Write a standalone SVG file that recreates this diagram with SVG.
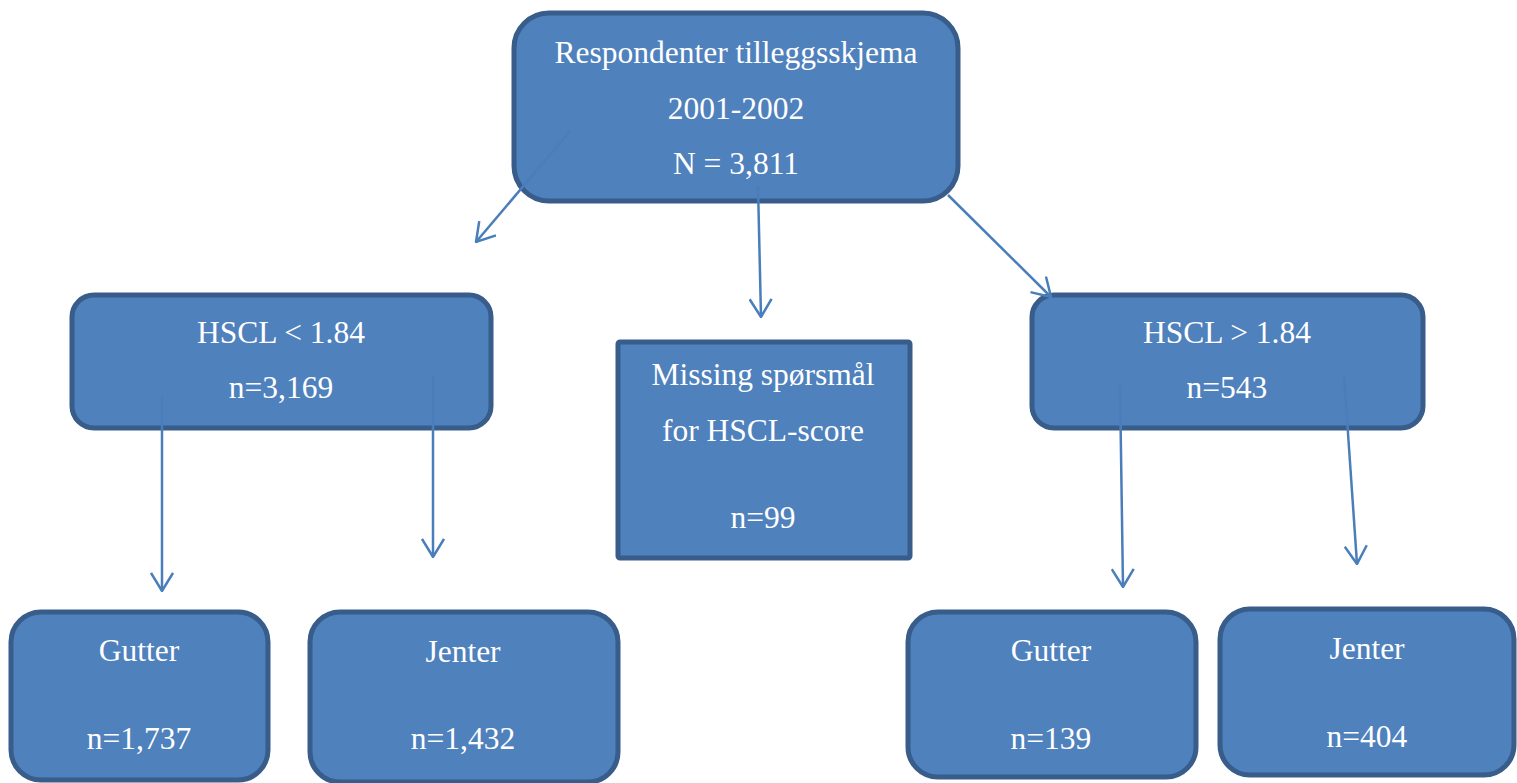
<svg xmlns="http://www.w3.org/2000/svg" width="1517" height="783" viewBox="0 0 1517 783">
<defs>
<style>
.box{fill:#4f81bd;stroke:#385d8a;stroke-width:5}
.t{font-family:"Liberation Serif","Times New Roman",serif;font-size:31.5px;fill:#ffffff;text-anchor:middle}
.c{stroke:#4a7ebb;stroke-width:2.5;fill:none;marker-end:url(#ah)}
</style>
<marker id="ah" viewBox="0 0 20 24" refX="19" refY="12" markerWidth="20" markerHeight="24" markerUnits="userSpaceOnUse" orient="auto">
<path d="M1,1 L19,12 L1,23" fill="none" stroke="#4a7ebb" stroke-width="2.5"/>
</marker>
</defs>
<g id="n-top">
<rect class="box" x="514" y="13" width="444" height="188" rx="35"/>
<text class="t" x="736" y="63">Respondenter tilleggsskjema</text>
<text class="t" x="736" y="119">2001-2002</text>
<text class="t" x="736" y="174">N = 3,811</text>
</g>
<g id="n-low">
<rect class="box" x="72" y="295" width="419" height="133" rx="22"/>
<text class="t" x="281" y="343">HSCL &lt; 1.84</text>
<text class="t" x="281" y="398">n=3,169</text>
</g>
<g id="n-missing">
<rect class="box" x="618" y="342" width="292" height="216" rx="2"/>
<text class="t" x="763" y="385">Missing spørsmål</text>
<text class="t" x="763" y="441">for HSCL-score</text>
<text class="t" x="763" y="528">n=99</text>
</g>
<g id="n-high">
<rect class="box" x="1032" y="295" width="391" height="133" rx="22"/>
<text class="t" x="1227" y="343">HSCL &gt; 1.84</text>
<text class="t" x="1227" y="398">n=543</text>
</g>
<g id="n-gutter-low">
<rect class="box" x="11" y="612" width="257" height="168" rx="30"/>
<text class="t" x="139" y="661">Gutter</text>
<text class="t" x="139" y="749">n=1,737</text>
</g>
<g id="n-jenter-low">
<rect class="box" x="310" y="612" width="308" height="170" rx="30"/>
<text class="t" x="463" y="662">Jenter</text>
<text class="t" x="463" y="749">n=1,432</text>
</g>
<g id="n-gutter-high">
<rect class="box" x="908" y="612" width="288" height="165" rx="30"/>
<text class="t" x="1051" y="661">Gutter</text>
<text class="t" x="1051" y="749">n=139</text>
</g>
<g id="n-jenter-high">
<rect class="box" x="1220" y="609" width="294" height="166" rx="30"/>
<text class="t" x="1367" y="659">Jenter</text>
<text class="t" x="1367" y="747">n=404</text>
</g>
<g id="connectors">
<line class="c" x1="570" y1="131" x2="476" y2="242"/>
<line class="c" x1="758" y1="186" x2="761" y2="317"/>
<line class="c" x1="948" y1="195" x2="1051" y2="297"/>
<line class="c" x1="162" y1="396" x2="162" y2="591"/>
<line class="c" x1="433" y1="376" x2="433" y2="557"/>
<line class="c" x1="1120" y1="385" x2="1123" y2="587"/>
<line class="c" x1="1344" y1="375" x2="1357" y2="564"/>
</g>
</svg>
